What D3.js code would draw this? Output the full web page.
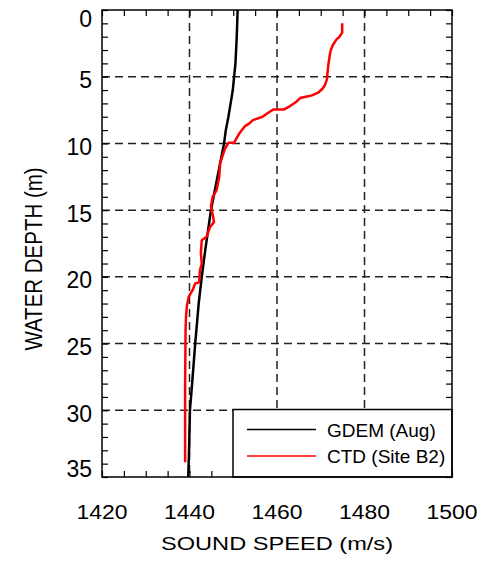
<!DOCTYPE html>
<html>
<head>
<meta charset="utf-8">
<script src="https://cdn.jsdelivr.net/npm/d3@7"></script>
<style>
  html, body { margin: 0; padding: 0; background: #fff; }
  svg { display: block; font-family: "Liberation Sans", Arial, Helvetica, sans-serif; }
</style>
</head>
<body>
<svg id="chart" width="487" height="561"></svg>
<script>
// ---- data ----
const speedTicks = [1420, 1440, 1460, 1480, 1500];
const depthTicks = [0, 5, 10, 15, 20, 25, 30, 35];
const gridSpeeds = [1440, 1460, 1480];
const gridDepths = [5, 10, 15, 20, 25, 30];

const seriesNames = ["GDEM (Aug)", "CTD (Site B2)"];
const seriesColors = ["#000000", "#ff0000"];

// GDEM (Aug) climatology profile: depth (m), sound speed (m/s)
const gdemDepth = [0, 2, 4, 5, 6, 7, 8, 9, 10, 12, 15, 18, 20, 22, 25, 28, 30, 33, 35];
const gdemSpeed = [1451.0, 1450.8, 1450.5, 1450.2, 1449.9, 1449.4, 1448.9, 1448.3, 1447.9, 1446.7, 1444.9, 1443.6, 1442.8, 1442.1, 1441.3, 1440.6, 1440.1, 1439.9, 1439.7];

// CTD (Site B2) measured profile
const ctdDepth = [1.0, 1.7, 2.0, 2.2, 2.6, 3.0, 3.3, 4.2, 5.2, 5.6, 5.9, 6.2, 6.4, 6.5, 6.6, 6.85, 7.2, 7.45, 7.45, 7.7, 8.0, 8.25, 8.5, 8.7, 9.2, 9.7, 9.95, 9.95, 10.4, 10.9, 11.5, 12.5, 13.5, 14.0, 14.75, 15.5, 15.9, 16.25, 17.0, 17.25, 18.2, 19.0, 19.5, 20.4, 20.5, 21.0, 21.5, 22.2, 23.0, 24.0, 28.0, 33.9];
const ctdSpeed = [1474.9, 1474.9, 1474.3, 1473.6, 1472.8, 1472.3, 1472.1, 1471.7, 1471.4, 1471.0, 1470.4, 1469.4, 1468.0, 1466.6, 1465.3, 1464.5, 1463.0, 1461.6, 1459.2, 1458.0, 1456.7, 1454.5, 1453.7, 1452.7, 1451.5, 1450.6, 1450.2, 1448.9, 1448.1, 1447.6, 1447.0, 1446.8, 1446.2, 1445.3, 1444.9, 1445.4, 1445.6, 1444.7, 1443.9, 1442.8, 1442.6, 1442.8, 1442.4, 1442.2, 1441.3, 1440.7, 1439.8, 1439.4, 1439.2, 1439.1, 1439.0, 1439.0];

// ---- layout ----
const L = 102, R = 452, T = 10, B = 477;
const svg = d3.select("#chart");
const x = d3.scaleLinear().domain([1420, 1500]).range([L, R]);
const y = d3.scaleLinear().domain([0, 35]).range([T, B]);

svg.append("defs").append("clipPath").attr("id", "clip")
  .append("rect").attr("x", L).attr("y", T).attr("width", R - L).attr("height", B - T);

// grid
const grid = svg.append("g").attr("stroke", "#222").attr("stroke-width", 1.5).attr("stroke-dasharray", "8,5");
grid.selectAll("line.v").data(gridSpeeds).join("line")
  .attr("x1", d => x(d)).attr("x2", d => x(d)).attr("y1", T).attr("y2", B);
grid.selectAll("line.h").data(gridDepths).join("line")
  .attr("y1", d => y(d)).attr("y2", d => y(d)).attr("x1", L).attr("x2", R);

// minor ticks on all sides (inward)
const minorX = d3.range(1420, 1500.1, 5);
const minorY = d3.range(0, 35.1, 1);
function styleAxis(g) {
  g.select(".domain").remove();
  g.selectAll(".tick text").remove();
  g.selectAll(".tick line").attr("stroke", "#000").attr("stroke-width", 1.2);
}
svg.append("g").attr("transform", `translate(0,${B})`)
  .call(d3.axisBottom(x).tickValues(minorX).tickSizeInner(-6).tickSizeOuter(0)).call(styleAxis);
svg.append("g").attr("transform", `translate(0,${T})`)
  .call(d3.axisTop(x).tickValues(minorX).tickSizeInner(-6).tickSizeOuter(0)).call(styleAxis);
svg.append("g").attr("transform", `translate(${L},0)`)
  .call(d3.axisLeft(y).tickValues(minorY).tickSizeInner(-6).tickSizeOuter(0)).call(styleAxis);
svg.append("g").attr("transform", `translate(${R},0)`)
  .call(d3.axisRight(y).tickValues(minorY).tickSizeInner(-6).tickSizeOuter(0)).call(styleAxis);

// lines
const plot = svg.append("g").attr("clip-path", "url(#clip)");
const line = d3.line().x(d => x(d[1])).y(d => y(d[0]));
plot.append("path").datum(d3.zip(gdemDepth, gdemSpeed))
  .attr("d", line).attr("fill", "none").attr("stroke", seriesColors[0]).attr("stroke-width", 2.5);
plot.append("path").datum(d3.zip(ctdDepth, ctdSpeed))
  .attr("d", line).attr("fill", "none").attr("stroke", seriesColors[1]).attr("stroke-width", 2.5)
  .attr("stroke-linejoin", "round");

// legend
const lg = svg.append("g");
lg.append("rect").attr("x", 233).attr("y", 409.5).attr("width", R - 233).attr("height", B - 409.5)
  .attr("fill", "#fff").attr("stroke", "#000").attr("stroke-width", 1.5);
seriesNames.forEach((name, i) => {
  const yy = 429.5 + i * 26.5;
  lg.append("line").attr("x1", 247).attr("x2", 316).attr("y1", yy).attr("y2", yy)
    .attr("stroke", seriesColors[i]).attr("stroke-width", 1.5);
  lg.append("text").attr("x", 327).attr("y", yy + 7).attr("font-size", 19).attr("fill", "#000").text(name);
});

// frame
svg.append("rect").attr("x", L).attr("y", T).attr("width", R - L).attr("height", B - T)
  .attr("fill", "none").attr("stroke", "#000").attr("stroke-width", 1.5);

// tick labels
svg.append("g").selectAll("text").data(depthTicks).join("text")
  .attr("x", 92).attr("y", d => Math.max(26.7, Math.min(y(d) + 11.6, 477.3)))
  .attr("text-anchor", "end").attr("font-size", 23).attr("fill", "#000").text(d => d);
svg.append("g").selectAll("text").data(speedTicks).join("text")
  .attr("x", d => x(d)).attr("y", 519.3).attr("text-anchor", "middle").attr("font-size", 20)
  .attr("textLength", 51).attr("lengthAdjust", "spacingAndGlyphs").attr("fill", "#000").text(d => d);

// axis titles
svg.append("text").attr("x", (L + R) / 2).attr("y", 550).attr("text-anchor", "middle")
  .attr("font-size", 18.6).attr("textLength", 232).attr("lengthAdjust", "spacingAndGlyphs")
  .attr("fill", "#000").text("SOUND SPEED (m/s)");
svg.append("text").attr("transform", "translate(41.7,259) rotate(-90) scale(1,1.2)")
  .attr("text-anchor", "middle").attr("font-size", 20.5).attr("fill", "#000").text("WATER DEPTH (m)");
</script>
</body>
</html>
